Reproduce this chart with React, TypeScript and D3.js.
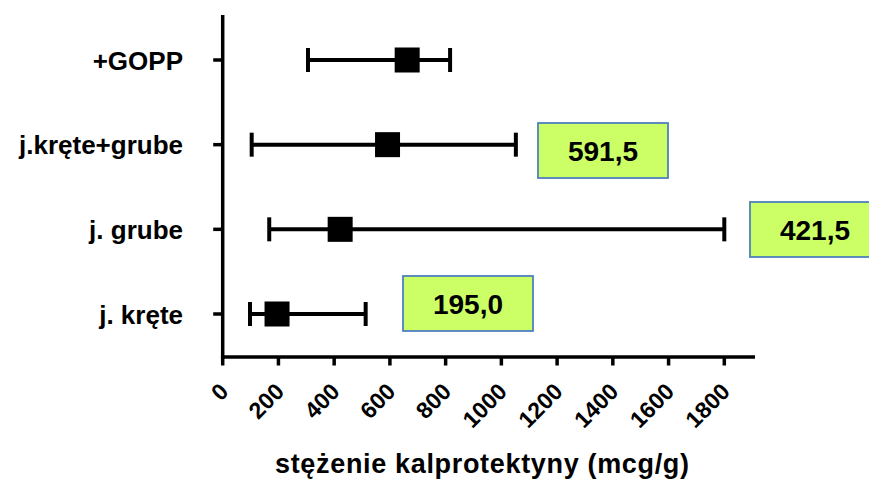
import React from 'react';
import * as d3 from 'd3';

// Groups and their summary values (median with min–max whiskers), in mcg/g
const categories = ['+GOPP', 'j.kręte+grube', 'j. grube', 'j. kręte'];
const medians = [662, 591.5, 421.5, 195.0];
const lowerWhisker = [306, 104, 167, 98];
const upperWhisker = [816, 1052, 1800, 513];
const xTicks = [0, 200, 400, 600, 800, 1000, 1200, 1400, 1600, 1800];
const calloutGroups = ['j.kręte+grube', 'j. grube', 'j. kręte'];

// Callout box placement (top-left corner, px)
const calloutPlacement: Record<string, [number, number]> = {
  'j.kręte+grube': [538, 123],
  'j. grube': [750, 202],
  'j. kręte': [403, 276],
};

const W = 869;
const H = 479;
const FONT = '"Liberation Sans", Arial, Helvetica, sans-serif';

const x = d3.scaleLinear().domain([0, 1800]).range([222.7, 724.3]);
const y = d3.scalePoint<string>().domain(categories).range([60, 314]);

const fmt = (v: number) => d3.format('.1f')(v).replace('.', ',');

export default function App() {
  const axisX = x(0);
  const axisY = 357;
  const boxW = 130;
  const boxH = 55;
  return (
    <svg
      width={W}
      height={H}
      viewBox={`0 0 ${W} ${H}`}
      style={{ position: 'absolute', left: 0, top: 0, background: '#fff' }}
      fontFamily={FONT}
      fontWeight="bold"
    >
      {/* y axis */}
      <line x1={axisX} x2={axisX} y1={15} y2={axisY + 1.5} stroke="#000" strokeWidth={3.5} />
      {categories.map((c) => (
        <g key={c}>
          <line x1={axisX - 9.5} x2={axisX} y1={y(c)} y2={y(c)} stroke="#000" strokeWidth={3.5} />
          <text x={183} y={(y(c) as number) + 9.5} textAnchor="end" fontSize={26} fill="#000">
            {c}
          </text>
        </g>
      ))}

      {/* x axis */}
      <line x1={axisX - 1.75} x2={755} y1={axisY} y2={axisY} stroke="#000" strokeWidth={3.5} />
      {xTicks.map((t) => (
        <g key={t}>
          <line x1={x(t)} x2={x(t)} y1={axisY} y2={365.5} stroke="#000" strokeWidth={3.5} />
          <text
            transform={`translate(${x(t) + 7},393) rotate(-45)`}
            textAnchor="end"
            fontSize={23}
            fill="#000"
          >
            {t}
          </text>
        </g>
      ))}
      <text x={482} y={473} textAnchor="middle" fontSize={27} textLength={414} lengthAdjust="spacing" fill="#000">
        stężenie kalprotektyny (mcg/g)
      </text>

      {/* whiskers and medians */}
      {categories.map((c, i) => {
        const cy = y(c) as number;
        const x0 = x(lowerWhisker[i]);
        const x1 = x(upperWhisker[i]);
        const xm = x(medians[i]);
        return (
          <g key={c}>
            <line x1={x0} x2={x1} y1={cy} y2={cy} stroke="#000" strokeWidth={4} />
            <line x1={x0} x2={x0} y1={cy - 12} y2={cy + 12} stroke="#000" strokeWidth={4} />
            <line x1={x1} x2={x1} y1={cy - 12} y2={cy + 12} stroke="#000" strokeWidth={4} />
            <rect x={xm - 12.5} y={cy - 12.5} width={25} height={25} fill="#000" />
          </g>
        );
      })}

      {/* median callouts */}
      {calloutGroups.map((c) => {
        const i = categories.indexOf(c);
        const [bx, by] = calloutPlacement[c];
        return (
          <g key={c}>
            <rect
              x={bx}
              y={by}
              width={boxW}
              height={boxH}
              fill="#ccff66"
              stroke="#4f81bd"
              strokeWidth={1.8}
            />
            <text x={bx + boxW / 2} y={by + boxH / 2 + 10.5} textAnchor="middle" fontSize={28} fill="#000">
              {fmt(medians[i])}
            </text>
          </g>
        );
      })}
    </svg>
  );
}
